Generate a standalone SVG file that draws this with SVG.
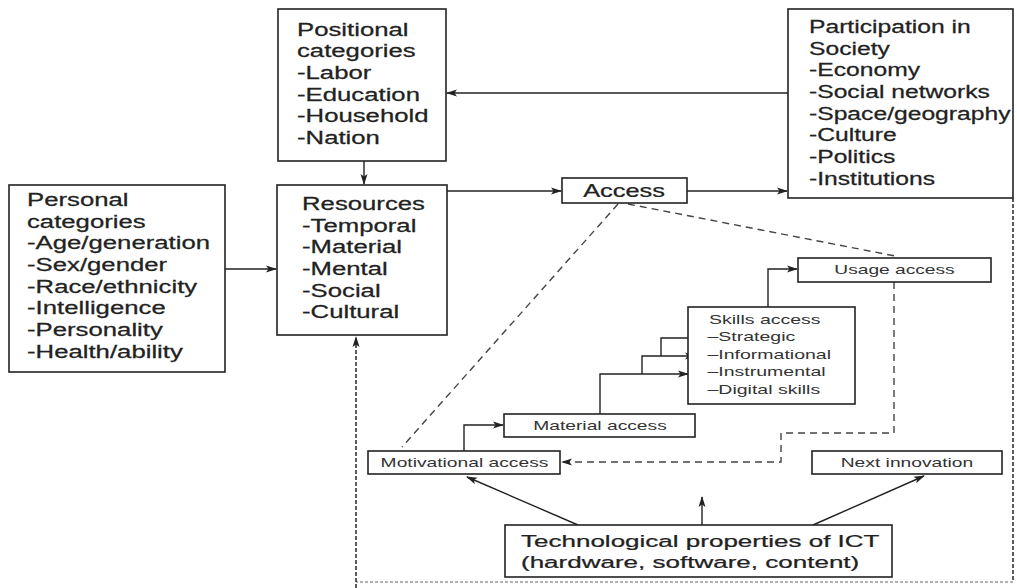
<svg xmlns="http://www.w3.org/2000/svg" width="1017" height="588" viewBox="0 0 1017 588">
<style>
.box{fill:#fff;stroke:#222;stroke-width:1.6}
.big{font-family:"Liberation Sans",Arial,sans-serif;font-size:17.5px;fill:#222;stroke:#222;stroke-width:0.25}
.sm{font-family:"Liberation Sans",Arial,sans-serif;font-size:13px;fill:#333}
.tech{font-family:"Liberation Sans",Arial,sans-serif;font-size:17px;fill:#222;stroke:#222;stroke-width:0.25}
.c{text-anchor:middle}
.ln{fill:none;stroke:#222;stroke-width:1.4}
.dash{fill:none;stroke:#444;stroke-width:1.4;stroke-dasharray:7 5}
.dot{fill:none;stroke:#333;stroke-width:1.6;stroke-dasharray:4 2}
.faint{fill:none;stroke:#999;stroke-width:1.6;stroke-dasharray:3 2}
</style>
<defs>
<marker id="ah" markerWidth="11" markerHeight="8" refX="10" refY="4" orient="auto" markerUnits="userSpaceOnUse">
<path d="M0,0.5 L11,4 L0,7.5 L2.5,4 z" fill="#222"/>
</marker>
</defs>
<rect width="1017" height="588" fill="#fff"/>

<g id="connectors">
<path class="ln" d="M788,93 H447" marker-end="url(#ah)"/>
<path class="ln" d="M364,161 V184" marker-end="url(#ah)"/>
<path class="ln" d="M225,269 H276" marker-end="url(#ah)"/>
<path class="ln" d="M447,191 H561" marker-end="url(#ah)"/>
<path class="ln" d="M687,191 H787" marker-end="url(#ah)"/>
<path class="ln" d="M768,307 V269 H797" marker-end="url(#ah)"/>
<path class="ln" d="M600,414 V374 H688" marker-end="url(#ah)"/>
<path class="ln" d="M642,374 V356 H695" marker-end="url(#ah)"/>
<path class="ln" d="M661,356 V338 H707" marker-end="url(#ah)"/>
<path class="ln" d="M464,451 V425 H503" marker-end="url(#ah)"/>
<path class="dash" d="M894,282 V433 H781 V462 H562" marker-end="url(#ah)"/>
<path class="ln" d="M578,525 L467,477" marker-end="url(#ah)"/>
<path class="ln" d="M702,525 V497" marker-end="url(#ah)"/>
<path class="ln" d="M813,525 L924,476" marker-end="url(#ah)"/>
<path class="dash" d="M618,204 L402,447"/>
<path class="dash" d="M628,204 L895,256"/>
<path class="dot" d="M1013,198 V582"/>
<path class="faint" d="M1013,582 H356"/>
<path class="dot" d="M356,588 V337" marker-end="url(#ah)"/>
</g>

<g id="positional">
<rect class="box" x="278" y="9" width="168" height="152"/>
<text class="big" transform="translate(297 35.7) scale(1.47 1)"><tspan x="0" y="0">Positional</tspan><tspan x="0" dy="21.7">categories</tspan><tspan x="0" dy="21.7">-Labor</tspan><tspan x="0" dy="21.7">-Education</tspan><tspan x="0" dy="21.7">-Household</tspan><tspan x="0" dy="21.7">-Nation</tspan></text>
</g>

<g id="participation">
<rect class="box" x="788" y="9" width="225" height="189"/>
<text class="big" transform="translate(809 33) scale(1.41 1)"><tspan x="0" y="0">Participation in</tspan><tspan x="0" dy="21.7">Society</tspan><tspan x="0" dy="21.7">-Economy</tspan><tspan x="0" dy="21.7">-Social networks</tspan><tspan x="0" dy="21.7">-Space/geography</tspan><tspan x="0" dy="21.7">-Culture</tspan><tspan x="0" dy="21.7">-Politics</tspan><tspan x="0" dy="21.7">-Institutions</tspan></text>
</g>

<g id="personal">
<rect class="box" x="9" y="185" width="216" height="187"/>
<text class="big" transform="translate(27 206) scale(1.47 1)"><tspan x="0" y="0">Personal</tspan><tspan x="0" dy="21.7">categories</tspan><tspan x="0" dy="21.7">-Age/generation</tspan><tspan x="0" dy="21.7">-Sex/gender</tspan><tspan x="0" dy="21.7">-Race/ethnicity</tspan><tspan x="0" dy="21.7">-Intelligence</tspan><tspan x="0" dy="21.7">-Personality</tspan><tspan x="0" dy="21.7">-Health/ability</tspan></text>
</g>

<g id="resources">
<rect class="box" x="277" y="185" width="170" height="150"/>
<text class="big" transform="translate(302 210) scale(1.47 1)"><tspan x="0" y="0">Resources</tspan><tspan x="0" dy="21.7">-Temporal</tspan><tspan x="0" dy="21.7">-Material</tspan><tspan x="0" dy="21.7">-Mental</tspan><tspan x="0" dy="21.7">-Social</tspan><tspan x="0" dy="21.7">-Cultural</tspan></text>
</g>

<g id="access">
<rect class="box" x="562" y="178" width="125" height="25"/>
<text class="big c" transform="translate(624 196.5) scale(1.45 1)">Access</text>
</g>

<g id="usage">
<rect class="box" x="798" y="258" width="193" height="24"/>
<text class="sm c" transform="translate(894.5 274) scale(1.475 1)">Usage access</text>
</g>

<g id="skills">
<rect class="box" x="688" y="307" width="167" height="97"/>
<text class="sm" transform="translate(709 324) scale(1.5 1)"><tspan x="0" y="0">Skills access</tspan><tspan x="-1" dy="17.5">–Strategic</tspan><tspan x="-1" dy="17.5">–Informational</tspan><tspan x="-1" dy="17.5">–Instrumental</tspan><tspan x="-1" dy="17.2">–Digital skills</tspan></text>
</g>

<g id="material">
<rect class="box" x="504" y="414" width="191" height="23"/>
<text class="sm c" transform="translate(600 429.5) scale(1.48 1)">Material access</text>
</g>

<g id="motivational">
<rect class="box" x="368" y="451" width="192" height="23"/>
<text class="sm c" transform="translate(464.5 466.5) scale(1.48 1)">Motivational access</text>
</g>

<g id="next">
<rect class="box" x="812" y="451" width="190" height="23"/>
<text class="sm c" transform="translate(907 466.5) scale(1.48 1)">Next innovation</text>
</g>

<g id="tech">
<rect class="box" x="505" y="525" width="387" height="52"/>
<text class="tech" transform="translate(521 547) scale(1.53 1)"><tspan x="0" y="0">Technological properties of ICT</tspan><tspan x="0" dy="21">(hardware, software, content)</tspan></text>
</g>
</svg>
